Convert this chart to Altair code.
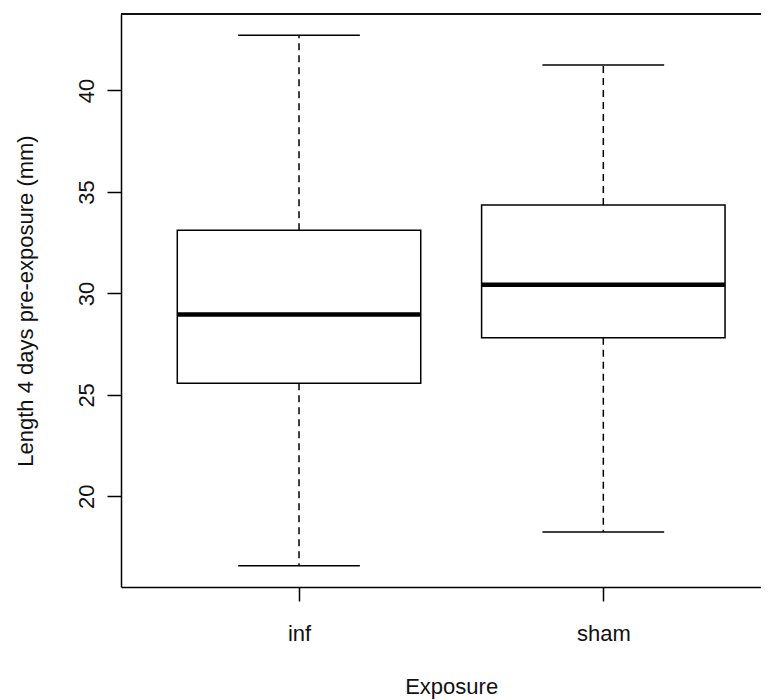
import altair as alt
import pandas as pd

# ---- data ----
groups = ["inf", "sham"]
positions = [1, 2]
lower_whisker = [16.58, 18.24]
q1 = [25.57, 27.82]
median = [28.96, 30.42]
q3 = [33.11, 34.35]
upper_whisker = [42.72, 41.25]
y_ticks = [20, 25, 30, 35, 40]

x_title = "Exposure"
y_title = "Length 4 days pre-exposure (mm)"

df = pd.DataFrame({
    "group": groups,
    "pos": positions,
    "lo": lower_whisker,
    "q1": q1,
    "med": median,
    "q3": q3,
    "hi": upper_whisker,
})

# R-style axis limits: data range extended 4% on each side
lo_all, hi_all = min(lower_whisker), max(upper_whisker)
rng = hi_all - lo_all
y_domain = [lo_all - 0.04 * rng, hi_all + 0.04 * rng]

W, H = 640, 573
unit = 304.3
x_min = 0.415
x_domain = [x_min, x_min + W / unit]

FONT = "Liberation Sans"
FS = 22
LW = 1.5

xs = alt.Scale(domain=x_domain, nice=False, zero=False)
ys = alt.Scale(domain=y_domain, nice=False, zero=False)

label_expr = " : ".join(
    [f"datum.value == {p} ? '{g}'" for p, g in zip(positions[:-1], groups[:-1])]
    + [f"'{groups[-1]}'"]
)

x_axis = alt.Axis(
    values=positions, labelExpr=label_expr, title=x_title, grid=False,
    domain=True, domainColor="black", domainWidth=LW,
    ticks=True, tickSize=14, tickWidth=LW, tickColor="black",
    labelFont=FONT, labelFontSize=FS, labelColor="#111111",
    labelBaseline="alphabetic", labelPadding=39, labelFlush=False,
    titleFont=FONT, titleFontSize=FS, titleFontWeight="normal", titleColor="#111111",
    titleBaseline="alphabetic", titleAlign="center",
    titleX=(1.5 - x_min) * unit, titleY=106,
)
y_axis = alt.Axis(
    values=y_ticks, title=y_title, grid=False,
    domain=True, domainColor="black", domainWidth=LW,
    ticks=True, tickSize=14, tickWidth=LW, tickColor="black",
    labelFont=FONT, labelFontSize=FS, labelColor="#111111",
    labelAngle=270, labelAlign="center", labelBaseline="alphabetic",
    labelPadding=14, labelFlush=False, labelOverlap=False,
    titleFont=FONT, titleFontSize=FS, titleFontWeight="normal", titleColor="#111111",
    titleAngle=270, titleAlign="center", titleBaseline="alphabetic",
    titleX=-89, titleY=H / 2,
)

base = alt.Chart(df).transform_calculate(
    box_l="datum.pos - 0.4",
    box_r="datum.pos + 0.4",
    cap_l="datum.pos - 0.2",
    cap_r="datum.pos + 0.2",
)


def X(f):
    return alt.X(f, scale=xs, axis=x_axis)


def Y(f):
    return alt.Y(f, scale=ys, axis=y_axis)


upper_dash = base.mark_rule(color="black", strokeWidth=LW, strokeDash=[7, 5]).encode(
    x=X("pos:Q"), y=Y("q3:Q"), y2="hi:Q",
)
lower_dash = base.mark_rule(color="black", strokeWidth=LW, strokeDash=[7, 5]).encode(
    x=X("pos:Q"), y=Y("q1:Q"), y2="lo:Q",
)
cap_hi = base.mark_rule(color="black", strokeWidth=LW).encode(
    x=X("cap_l:Q"), x2="cap_r:Q", y=Y("hi:Q"),
)
cap_lo = base.mark_rule(color="black", strokeWidth=LW).encode(
    x=X("cap_l:Q"), x2="cap_r:Q", y=Y("lo:Q"),
)
box = base.mark_rect(fill="white", stroke="black", strokeWidth=LW).encode(
    x=X("box_l:Q"), x2="box_r:Q", y=Y("q1:Q"), y2="q3:Q",
)
med_line = base.mark_rule(color="black", strokeWidth=4.5, strokeCap="butt").encode(
    x=X("box_l:Q"), x2="box_r:Q", y=Y("med:Q"),
)
top_frame = alt.Chart(df).mark_rule(color="black", strokeWidth=LW).encode(
    x=alt.value(0), x2=alt.value(W), y=alt.value(0)
)

chart = alt.layer(
    upper_dash, lower_dash, cap_hi, cap_lo, box, med_line, top_frame
).properties(
    width=W, height=H,
    autosize=alt.AutoSizeParams(type="none"),
    padding={"left": 113, "top": 6, "right": 0, "bottom": 113},
    background="white",
).configure_view(stroke=None)

chart.save("out.html", embed_options={"renderer": "svg", "actions": False})
